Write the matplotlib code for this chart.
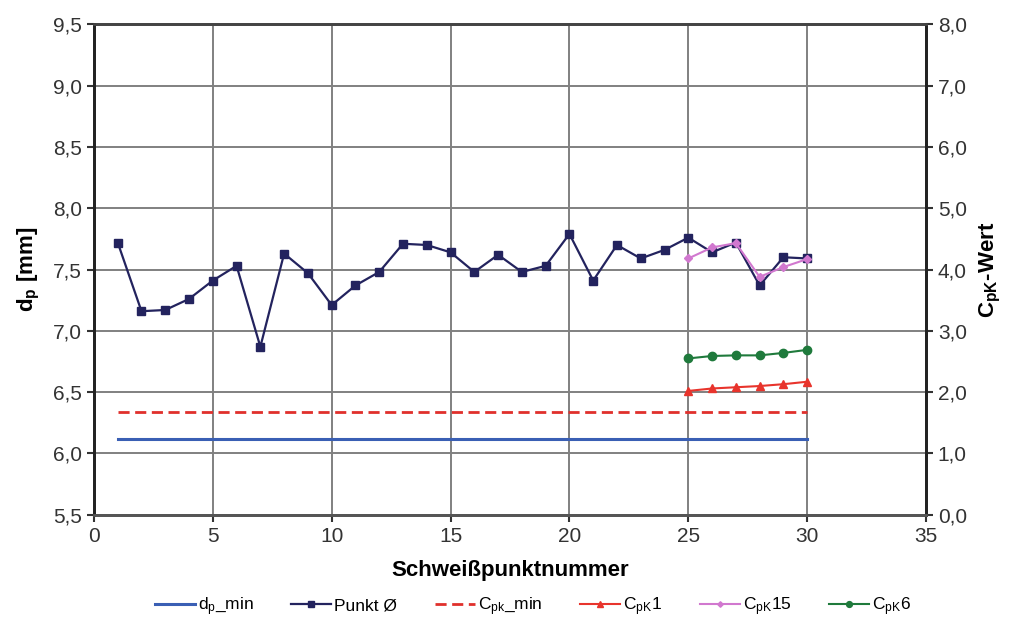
import matplotlib
matplotlib.use('Agg')
import matplotlib.pyplot as plt
from matplotlib.ticker import FuncFormatter

plt.rcParams['font.family'] = ['Liberation Sans', 'DejaVu Sans']
plt.rcParams['mathtext.fontset'] = 'custom'
plt.rcParams['mathtext.rm'] = 'Liberation Sans'
plt.rcParams['mathtext.bf'] = 'Liberation Sans:bold'
plt.rcParams['mathtext.it'] = 'Liberation Sans:italic'

# Daten
punkt_x = list(range(1, 31))
punkt_d = [7.72, 7.16, 7.17, 7.26, 7.41, 7.53, 6.87, 7.63, 7.47, 7.21,
           7.37, 7.48, 7.71, 7.70, 7.64, 7.48, 7.62, 7.48, 7.53, 7.79,
           7.41, 7.70, 7.59, 7.66, 7.76, 7.64, 7.72, 7.37, 7.60, 7.59]

dp_min_x = [1, 30]
dp_min = [6.12, 6.12]
cpk_min_x = [1, 30]
cpk_min = [1.67, 1.67]

cpk_x = [25, 26, 27, 28, 29, 30]
cpk1 = [2.02, 2.06, 2.08, 2.10, 2.13, 2.17]
cpk15 = [4.18, 4.36, 4.43, 3.88, 4.04, 4.17]
cpk6 = [2.55, 2.59, 2.60, 2.60, 2.64, 2.69]

fig = plt.figure(figsize=(10.21, 6.21), dpi=100)
ax = fig.add_axes([0.092, 0.171, 0.815, 0.790])
ax2 = ax.twinx()

ax.set_xlim(0, 35)
ax.set_ylim(5.5, 9.5)
ax2.set_ylim(0, 8)
ax.set_xticks(range(0, 36, 5))
ax.set_yticks([5.5 + 0.5 * i for i in range(9)])
ax2.set_yticks(range(0, 9))

comma = FuncFormatter(lambda v, p: ('%.1f' % v).replace('.', ','))
ax.yaxis.set_major_formatter(comma)
ax2.yaxis.set_major_formatter(comma)

ax.grid(True, color='#808080', lw=1.4)
ax.set_axisbelow(True)

l1, = ax.plot(dp_min_x, dp_min, color='#3a5fb4', lw=2.2, label=r'd$_\mathrm{p}$_min')
l2, = ax.plot(punkt_x, punkt_d, color='#23235e', lw=1.6, marker='s', ms=6,
              label='Punkt Ø')
l3, = ax2.plot(cpk_min_x, cpk_min, color='#e0302c', lw=2.0, ls=(0, (4, 2)),
               label=r'C$_\mathrm{pk}$_min')
l4, = ax2.plot(cpk_x, cpk1, color='#e8342c', lw=1.5, marker='^', ms=6,
               label=r'C$_\mathrm{pK}$1')
l5, = ax2.plot(cpk_x, cpk15, color='#d178cf', lw=1.5, marker='D', ms=4,
               label=r'C$_\mathrm{pK}$15')
l6, = ax2.plot(cpk_x, cpk6, color='#1f7a3c', lw=1.5, marker='o', ms=6,
               label=r'C$_\mathrm{pK}$6')

for a in (ax, ax2):
    a.spines['left'].set_linewidth(2)
    a.spines['right'].set_linewidth(2)
    a.spines['left'].set_color('#222222')
    a.spines['right'].set_color('#222222')
    a.spines['top'].set_linewidth(2)
    a.spines['bottom'].set_linewidth(2)
    a.spines['top'].set_color('#444444')
    a.spines['bottom'].set_color('#555555')
    a.tick_params(labelsize=15, colors='#333333', length=5, width=1.5,
                  direction='out')

ax.set_xlabel('Schweißpunktnummer', fontsize=16, fontweight='bold', labelpad=10)
ax.set_ylabel(r'd$_\mathbf{p}$ [mm]', fontsize=16, fontweight='bold', labelpad=8)
ax2.set_ylabel(r'C$_\mathbf{pK}$-Wert', fontsize=16, fontweight='bold', labelpad=8)

leg = fig.legend(handles=[l1, l2, l3, l4, l5, l6], loc='lower center',
                 bbox_to_anchor=(0.522, -0.02), ncol=6, frameon=False,
                 fontsize=12.5, handlelength=2.3, columnspacing=2.2,
                 handletextpad=0.15, markerscale=0.7)

fig.savefig('out.png', dpi=100)
